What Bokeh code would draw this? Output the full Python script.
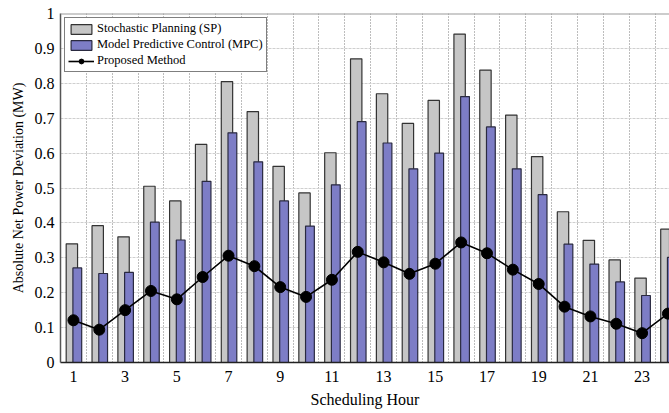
from bokeh.embed import file_html
from bokeh.resources import INLINE
from bokeh.plotting import figure
from bokeh.models import (ColumnDataSource, FixedTicker, Legend, LegendItem,
                          Range1d, Span)
from bokeh.transform import dodge

# Hourly absolute net power deviation (MW)
hours = list(range(1, 25))
sp = [0.34, 0.392, 0.36, 0.505, 0.463, 0.625, 0.805, 0.719, 0.562, 0.486, 0.601, 0.870,
      0.770, 0.685, 0.751, 0.941, 0.838, 0.709, 0.590, 0.432, 0.350, 0.294, 0.242, 0.382]
mpc = [0.271, 0.255, 0.258, 0.402, 0.351, 0.519, 0.658, 0.575, 0.463, 0.391, 0.509, 0.690,
       0.629, 0.555, 0.600, 0.762, 0.675, 0.555, 0.481, 0.339, 0.282, 0.231, 0.192, 0.301]
proposed = [0.121, 0.094, 0.150, 0.205, 0.181, 0.245, 0.306, 0.276, 0.216, 0.188, 0.237, 0.317,
            0.287, 0.254, 0.283, 0.344, 0.313, 0.266, 0.225, 0.160, 0.132, 0.111, 0.084, 0.140]

x_ticks = [1, 3, 5, 7, 9, 11, 13, 15, 17, 19, 21, 23]
y_ticks = [0, 0.1, 0.2, 0.3, 0.4, 0.5, 0.6, 0.7, 0.8, 0.9, 1]
y_tick_labels = ["0", "0.1", "0.2", "0.3", "0.4", "0.5", "0.6", "0.7", "0.8", "0.9", "1"]

FONT = "Liberation Serif"

src = ColumnDataSource(dict(hour=hours, sp=sp, mpc=mpc, proposed=proposed))

p = figure(width=669, height=413, x_range=Range1d(0.5, 24.06), y_range=Range1d(0, 1),
           output_backend="svg", toolbar_location=None,
           min_border_left=60, min_border_right=0, min_border_top=13, min_border_bottom=51)
p.outline_line_color = None
p.background_fill_color = "white"

# grid: dotted lines between the hours, light rules at every 0.1 MW
p.xgrid.ticker = FixedTicker(ticks=[h + 0.5 for h in hours])
p.xgrid.grid_line_color = "#7a7a7a"
p.xgrid.grid_line_dash = "1 2"
p.xgrid.grid_line_width = 1
p.ygrid.grid_line_color = "#cfcfcf"
p.ygrid.grid_line_dash = "3 1"
p.ygrid.grid_line_width = 1

r_sp = p.vbar(x=dodge("hour", -0.06, range=p.x_range), top="sp", width=0.44, source=src,
              fill_color="#c6c6c6", line_color="#333333", line_width=1.2)
r_mpc = p.vbar(x=dodge("hour", 0.15, range=p.x_range), top="mpc", width=0.34, source=src,
               fill_color="#7d7dc6", line_color="#2a2a40", line_width=1.2)
r_line = p.line(x="hour", y="proposed", source=src, line_color="black", line_width=1.6)
r_pts = p.scatter(x="hour", y="proposed", source=src, size=11, marker="circle",
                  fill_color="black", line_color="black")

p.add_layout(Span(location=1, dimension="width", line_color="#9a9a9a", line_width=2))

# axes
p.xaxis.ticker = FixedTicker(ticks=x_ticks)
p.yaxis.ticker = FixedTicker(ticks=y_ticks)
p.yaxis.major_label_overrides = dict(zip(y_ticks, y_tick_labels))
p.xaxis.axis_label = "Scheduling Hour"
p.yaxis.axis_label = "Absolute Net Power Deviation (MW)"
for ax in (p.xaxis[0], p.yaxis[0]):
    ax.major_label_text_font = FONT
    ax.major_label_text_font_size = "16px"
    ax.major_label_text_color = "black"
    ax.axis_label_text_font = FONT
    ax.axis_label_text_font_style = "normal"
    ax.axis_label_text_color = "black"
    ax.major_tick_in = 0
    ax.major_tick_out = 0
    ax.minor_tick_in = 0
    ax.minor_tick_out = 0
p.xaxis.axis_line_color = "#222222"
p.xaxis.axis_line_width = 1.5
p.yaxis.axis_line_color = "#555555"
p.yaxis.axis_line_width = 1.5
p.xaxis.major_label_standoff = 8
p.yaxis.major_label_standoff = 6
p.xaxis.axis_label_text_font_size = "16px"
p.yaxis.axis_label_text_font_size = "14px"
p.xaxis.axis_label_standoff = 6
p.yaxis.axis_label_standoff = 6

legend = Legend(items=[
    LegendItem(label="Stochastic Planning (SP)", renderers=[r_sp]),
    LegendItem(label="Model Predictive Control (MPC)", renderers=[r_mpc]),
    LegendItem(label="Proposed Method", renderers=[r_line, r_pts]),
], location="top_left")
legend.margin = 4
legend.padding = 3
legend.spacing = 1
legend.glyph_width = 26
legend.glyph_height = 12
legend.label_height = 12
legend.label_standoff = 3
legend.label_text_font = FONT
legend.label_text_font_size = "12.5px"
legend.label_text_color = "black"
legend.border_line_color = "black"
legend.border_line_width = 1
legend.background_fill_color = "white"
legend.background_fill_alpha = 1
p.add_layout(legend)

open("out.html", "w").write(file_html(p, INLINE))
